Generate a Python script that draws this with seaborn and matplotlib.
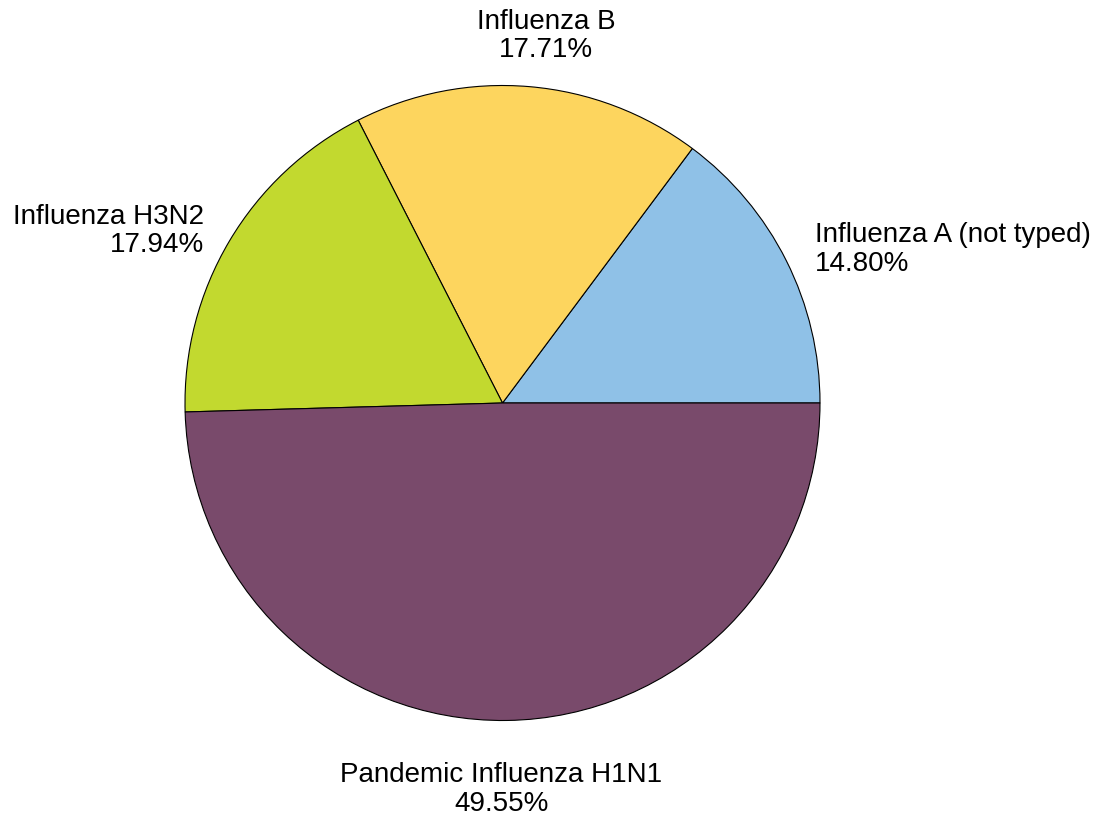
import matplotlib

matplotlib.use("Agg")
import matplotlib.pyplot as plt
import matplotlib.transforms as mtransforms
import seaborn as sns

# Share of influenza detections by type
categories = [
    "Influenza A (not typed)",
    "Influenza B",
    "Influenza H3N2",
    "Pandemic Influenza H1N1",
]
shares = [14.80, 17.71, 17.94, 49.55]
colors = ["#8fc1e7", "#fdd55e", "#c2d92f", "#794a6b"]

sns.set_theme(style="white")
plt.rcParams["font.family"] = ["Liberation Sans", "DejaVu Sans"]

fig = plt.figure(figsize=(11.01, 8.18), dpi=100)
ax = fig.add_axes([0, 0, 1, 1])

labels = [f"{c}\n{s:.2f}%" for c, s in zip(categories, shares)]
wedges, texts = ax.pie(
    shares,
    labels=labels,
    colors=colors,
    startangle=0,
    counterclock=True,
    labeldistance=1.1,
    wedgeprops={"edgecolor": "black", "linewidth": 0.8},
    textprops={"fontsize": 20, "color": "black", "linespacing": 1.12},
)

# top and bottom labels are centred, side labels hug the pie
texts[0].set_ha("left")
texts[1].set_ha("center")
texts[1].set_va("bottom")
texts[2].set_ha("right")
texts[3].set_ha("center")
texts[3].set_va("top")

# small nudges (pixels) so labels sit where the original put them
nudges = [(0, -3), (14, -8), (2, -6), (-6, -10)]
for t, (dx, dy) in zip(texts, nudges):
    t.set_transform(t.get_transform() + mtransforms.ScaledTranslation(dx / 100, dy / 100, fig.dpi_scale_trans))

ax.set_aspect("equal")
r_px = 317.5
ax.set_xlim(-502.5 / r_px, (1101 - 502.5) / r_px)
ax.set_ylim(-(818 - 403) / r_px, 403 / r_px)
ax.axis("off")

fig.savefig("out.png", dpi=100, facecolor="white")
plt.close(fig)
